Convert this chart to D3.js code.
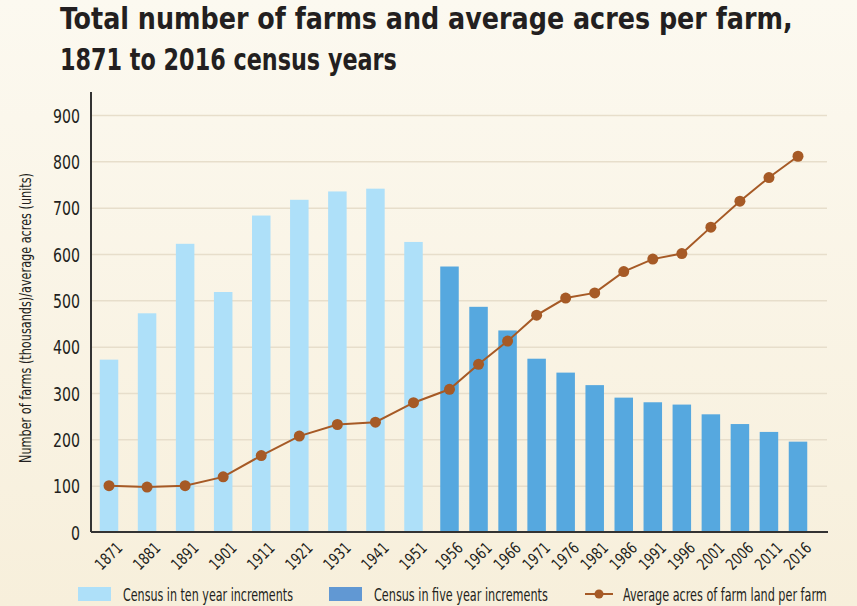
<!DOCTYPE html>
<html lang="en">
<head>
<meta charset="UTF-8">
<title>Total number of farms and average acres per farm</title>
<script src="https://d3js.org/d3.v7.min.js"></script>
<style>
* { box-sizing: border-box; }
body { margin: 0; background: #f8f1df; }
svg { display: block; }
text { font-family: "DejaVu Sans", sans-serif; font-stretch: condensed; fill: #231f20; }
.title { font-size: 30px; font-weight: bold; }
.tick text { font-size: 20px; }
.xaxis .tick text { font-size: 16px; }
.legend text { font-size: 17px; }
</style>
</head>
<body>
<div id="chart"></div>
<script>
// census years and values
var years = [1871, 1881, 1891, 1901, 1911, 1921, 1931, 1941, 1951,
             1956, 1961, 1966, 1971, 1976, 1981, 1986, 1991, 1996, 2001, 2006, 2011, 2016];
// number of farms (thousands)
var farms = [372, 472, 622, 518, 683, 717, 735, 741, 626,
             573, 486, 435, 374, 344, 317, 290, 280, 275, 254, 233, 216, 195];
// average acres per farm
var acres = [100, 97, 100, 119, 165, 207, 232, 237, 279,
             308, 362, 412, 468, 505, 516, 562, 589, 601, 658, 714, 765, 811];
var yTicks = [0, 100, 200, 300, 400, 500, 600, 700, 800, 900];
var legendLabels = ["Census in ten year increments", "Census in five year increments",
                    "Average acres of farm land per farm"];

var W = 857, H = 606;
var light = "#aee0f9", dark = "#56a8df", brown = "#a65a26";

var svg = d3.select("#chart").append("svg")
  .attr("width", W).attr("height", H);

// squeeze a text horizontally so it has the width of the condensed original
function squeeze(t, w) {
  var n = t.node().getComputedTextLength();
  var tx = +t.attr("x"), ty = +t.attr("y");
  t.attr("x", 0).attr("y", 0)
    .attr("transform", "translate(" + tx + "," + ty + ") scale(" + (w / n) + ",1)");
}

// background gradient
var grad = svg.append("defs").append("linearGradient")
  .attr("id", "bg").attr("x1", 0).attr("y1", 0).attr("x2", 0).attr("y2", 1);
grad.append("stop").attr("offset", "0%").attr("stop-color", "#fcf9f0");
grad.append("stop").attr("offset", "100%").attr("stop-color", "#f7efdb");
svg.append("rect").attr("width", W).attr("height", H).attr("fill", "url(#bg)");

// title
squeeze(svg.append("text").attr("class", "title").attr("x", 60).attr("y", 29)
  .text("Total number of farms and average acres per farm,"), 733);
squeeze(svg.append("text").attr("class", "title").attr("x", 60).attr("y", 70)
  .text("1871 to 2016 census years"), 337);

// scales: ten-year steps are wider than five-year steps
var x = d3.scaleLinear()
  .domain([1871, 1951, 1956, 2016])
  .range([109, 413.5, 449.5, 798]);
var y = d3.scaleLinear().domain([0, 900]).range([532, 115]);
var left = 91, right = 827, barW = 18.5;

// gridlines
svg.append("g")
  .attr("transform", "translate(" + left + ",0)")
  .call(d3.axisLeft(y).tickValues(yTicks.slice(1)).tickSize(-(right - left)).tickFormat(""))
  .call(function(g) {
    g.select(".domain").remove();
    g.selectAll("line").attr("stroke", "#e7decb").attr("stroke-width", 1.5);
  });

// bars
svg.append("g").selectAll("rect")
  .data(years)
  .join("rect")
    .attr("x", function(d) { return x(d) - barW / 2; })
    .attr("width", barW)
    .attr("y", function(d, i) { return y(farms[i]); })
    .attr("height", function(d, i) { return y(0) - y(farms[i]); })
    .attr("fill", function(d) { return d <= 1951 ? light : dark; });

// line of average acres
var line = d3.line()
  .x(function(d) { return x(d); })
  .y(function(d, i) { return y(acres[i]); });
svg.append("path").datum(years)
  .attr("d", line)
  .attr("fill", "none").attr("stroke", brown).attr("stroke-width", 2);
svg.append("g").selectAll("circle")
  .data(years)
  .join("circle")
    .attr("cx", function(d) { return x(d); })
    .attr("cy", function(d, i) { return y(acres[i]); })
    .attr("r", 5.5)
    .attr("fill", brown);

// y axis
svg.append("g")
  .attr("transform", "translate(" + left + ",0)")
  .call(d3.axisLeft(y).tickValues(yTicks).tickSize(0).tickPadding(11))
  .call(function(g) {
    g.select(".domain").attr("d", "M0,92V532").attr("stroke", "#333").attr("stroke-width", 2);
    g.selectAll(".tick text")
      .attr("font-family", null)
      .attr("font-size", null)
      .attr("dy", "0.36em")
      .attr("textLength", function(d) { return String(d).length * 9; })
      .attr("lengthAdjust", "spacingAndGlyphs");
  });

// x axis
var xa = svg.append("g").attr("class", "xaxis")
  .attr("transform", "translate(0,532)")
  .call(d3.axisBottom(x).tickValues(years).tickSize(0).tickFormat(d3.format("d")));
xa.select(".domain").attr("d", "M" + left + ",0H" + (right + 1)).attr("stroke", "#333").attr("stroke-width", 2);
xa.selectAll(".tick text")
  .attr("font-family", null)
  .attr("font-size", null)
  .attr("text-anchor", "end")
  .attr("dy", null)
  .attr("y", 0)
  .attr("textLength", 31).attr("lengthAdjust", "spacingAndGlyphs")
  .attr("transform", "translate(14,17) rotate(-45)");

// y axis title
svg.append("text")
  .attr("transform", "translate(31,318) rotate(-90)")
  .attr("text-anchor", "middle")
  .attr("textLength", 290).attr("lengthAdjust", "spacingAndGlyphs")
  .style("font-size", "15px")
  .text("Number of farms (thousands)/average acres (units)");

// legend
var lg = svg.append("g").attr("class", "legend");
lg.append("rect").attr("x", 78).attr("y", 587).attr("width", 33).attr("height", 14).attr("fill", light);
squeeze(lg.append("text").attr("x", 123).attr("y", 601).text(legendLabels[0]), 170);
lg.append("rect").attr("x", 329).attr("y", 587).attr("width", 33).attr("height", 14).attr("fill", "#6198d3");
squeeze(lg.append("text").attr("x", 374).attr("y", 601).text(legendLabels[1]), 174);
lg.append("line").attr("x1", 585).attr("x2", 613).attr("y1", 594).attr("y2", 594)
  .attr("stroke", brown).attr("stroke-width", 2);
lg.append("circle").attr("cx", 599).attr("cy", 594).attr("r", 4.5).attr("fill", brown);
squeeze(lg.append("text").attr("x", 623).attr("y", 601).text(legendLabels[2]), 204);
</script>
</body>
</html>
